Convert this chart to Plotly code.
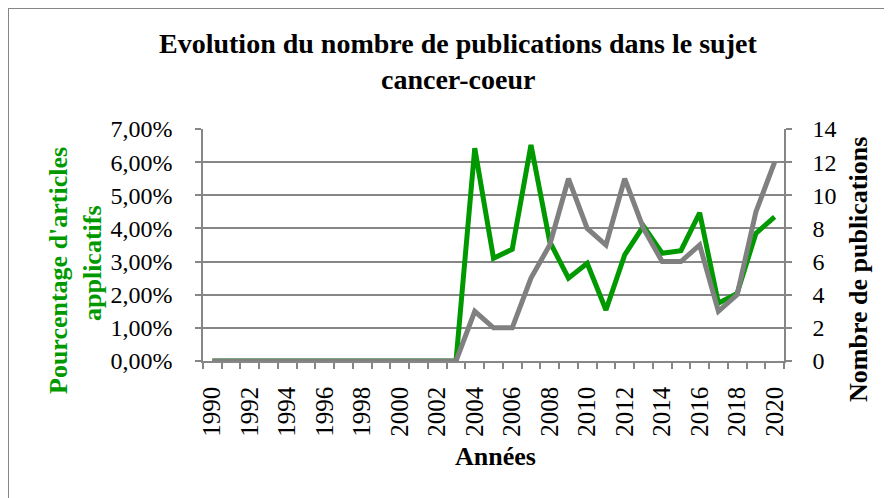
import plotly.graph_objects as go

years = list(range(1990, 2021))
pct_applicatifs = [0]*14 + [0.0642, 0.0310, 0.0337, 0.0652, 0.0360, 0.0250, 0.0295, 0.0154,
                             0.0320, 0.0407, 0.0325, 0.0333, 0.0447, 0.0174, 0.0204, 0.0385, 0.0435]
nb_publications = [0]*14 + [3, 2, 2, 5, 7, 11, 8, 7, 11, 8, 6, 6, 7, 3, 4, 9, 12]
year_labels = [str(y) for y in years if y % 2 == 0]

OFF = 8  # page body margin
W, H = 892 - OFF, 498 - OFF
# plot area in page pixels: x 203..784, y 129..361
L, T = 203 - OFF, 129 - OFF
R, B = W - (784 - OFF), H - (361 - OFF)
pw, ph = W - L - R, H - T - B
def px(x): return (x - OFF - L) / pw
def py(y): return (H - B - (y - OFF)) / ph

GREEN = "#009900"
GREY = "#808080"
AX = "#868686"
FONT = "Liberation Serif"

fig = go.Figure()
fig.add_trace(go.Scatter(x=years, y=pct_applicatifs, mode="lines",
                         line=dict(color=GREEN, width=5), yaxis="y", showlegend=False))
fig.add_trace(go.Scatter(x=years, y=nb_publications, mode="lines",
                         line=dict(color=GREY, width=5), yaxis="y2", showlegend=False))

boundaries = [y - 0.5 for y in years] + [years[-1] + 0.5]

fig.update_layout(
    template="none",
    width=W, height=H,
    margin=dict(l=L, r=R, t=T, b=B, autoexpand=False),
    paper_bgcolor="white", plot_bgcolor="white",
    separators=", ",
    font=dict(family=FONT, size=24, color="black"),
    xaxis=dict(range=[years[0] - 0.5, years[-1] + 0.5], tickmode="array",
               tickvals=[y for y in years if y % 2 == 0], ticktext=year_labels,
               tickangle=-90, ticks="", showgrid=False, zeroline=False,
               showline=True, linecolor=AX, linewidth=1.5, automargin=False,
               ticklabelstandoff=14, tickfont=dict(size=25),
               minor=dict(tickmode="array", tickvals=boundaries, ticks="outside",
                          ticklen=6, tickcolor=AX, tickwidth=1.5, showgrid=False)),
    yaxis=dict(range=[0, 0.07], tickmode="linear", tick0=0, dtick=0.01, tickformat=".2%",
               ticks="outside", ticklen=6, tickcolor=AX, tickwidth=1.5,
               showgrid=True, gridcolor=AX, gridwidth=1.5, zeroline=False,
               showline=True, linecolor=AX, linewidth=1.5, automargin=False,
               ticklabelstandoff=18),
    yaxis2=dict(range=[0, 14], tickmode="linear", tick0=0, dtick=2, overlaying="y", side="right",
                ticks="outside", ticklen=6, tickcolor=AX, tickwidth=1.5,
                showgrid=False, zeroline=False, showline=True, linecolor=AX, linewidth=1.5,
                automargin=False, ticklabelstandoff=16),
    annotations=[
        dict(text="<b>Evolution du nombre de publications dans le sujet</b>",
             xref="paper", yref="paper", x=px(458), y=py(44), showarrow=False,
             xanchor="center", yanchor="middle",
             font=dict(family=FONT, size=28, color="black")),
        dict(text="<b>cancer-coeur</b>",
             xref="paper", yref="paper", x=px(458), y=py(80), showarrow=False,
             xanchor="center", yanchor="middle",
             font=dict(family=FONT, size=28, color="black")),
        dict(text="<b>Pourcentage d'articles</b>", textangle=-90,
             xref="paper", yref="paper", x=px(58), y=py(271), showarrow=False,
             xanchor="center", yanchor="middle",
             font=dict(family=FONT, size=26, color=GREEN)),
        dict(text="<b>applicatifs</b>", textangle=-90,
             xref="paper", yref="paper", x=px(92), y=py(263), showarrow=False,
             xanchor="center", yanchor="middle",
             font=dict(family=FONT, size=26, color=GREEN)),
        dict(text="<b>Nombre de publications</b>", textangle=-90,
             xref="paper", yref="paper", x=px(858), y=py(270), showarrow=False,
             xanchor="center", yanchor="middle",
             font=dict(family=FONT, size=26, color="black")),
        dict(text="<b>Années</b>", xref="paper", yref="paper", x=px(495), y=py(456),
             showarrow=False, xanchor="center", yanchor="middle",
             font=dict(family=FONT, size=26, color="black")),
    ],
    shapes=[
        dict(type="line", xref="paper", yref="paper", x0=px(8), x1=px(8), y0=py(8), y1=py(510),
             line=dict(color=AX, width=2)),
        dict(type="line", xref="paper", yref="paper", x0=px(8), x1=px(900), y0=py(8), y1=py(8),
             line=dict(color=AX, width=2)),
    ],
)

fig.write_html("out.html")
